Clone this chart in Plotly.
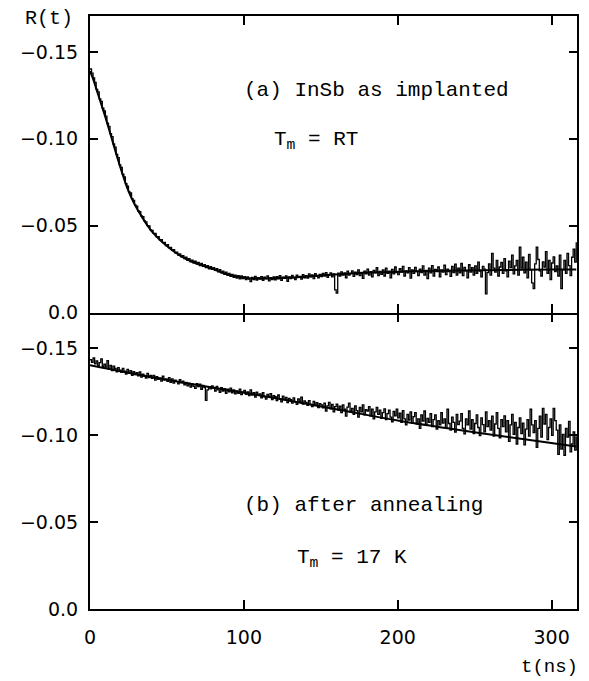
import plotly.graph_objects as go

# ---------------- data ----------------
# channel times (ns), 1 ns channels, 0 ... 316
t_data = list(range(317))

# panel (a): InSb as implanted, R(t) per channel
r_a = [
    -.1402, -.1378, -.1350, -.1325, -.1284, -.1270, -.1230, -.1215, -.1176, -.1160,
    -.1130, -.1090, -.1072, -.1030, -.1012, -.0970, -.0952, -.0910, -.0892, -.0850,
    -.0835, -.0796, -.0780, -.0742, -.0728, -.0695, -.0688, -.0655, -.0646, -.0618,
    -.0612, -.0585, -.0580, -.0556, -.0552, -.0528, -.0522, -.0500, -.0498, -.0476,
    -.0472, -.0455, -.0455, -.0436, -.0437, -.0418, -.0420, -.0402, -.0404, -.0385,
    -.0390, -.0372, -.0375, -.0358, -.0362, -.0344, -.0348, -.0330, -.0338, -.0320,
    -.0328, -.0310, -.0318, -.0300, -.0310, -.0292, -.0302, -.0285, -.0295, -.0278,
    -.0288, -.0270, -.0282, -.0265, -.0276, -.0258, -.0270, -.0252, -.0264, -.0248,
    -.0258, -.0242, -.0252, -.0234, -.0246, -.0228, -.0238, -.0220, -.0232, -.0214,
    -.0225, -.0208, -.0220, -.0203, -.0215, -.0198, -.0212, -.0194, -.0210, -.0195,
    -.0207, -.0190, -.0205, -.0193, -.0178, -.0202, -.0190, -.0208, -.0186, -.0200,
    -.0192, -.0206, -.0185, -.0203, -.0195, -.0210, -.0182, -.0200, -.0190, -.0205,
    -.0188, -.0207, -.0194, -.0212, -.0185, -.0203, -.0196, -.0211, -.0180, -.0205,
    -.0195, -.0214, -.0200, -.0190, -.0215, -.0202, -.0208, -.0192, -.0218, -.0200,
    -.0212, -.0198, -.0222, -.0205, -.0216, -.0195, -.0224, -.0208, -.0200, -.0220,
    -.0206, -.0225, -.0210, -.0230, -.0202, -.0218, -.0228, -.0205, -.0222, -.0130,
    -.0112, -.0226, -.0210, -.0234, -.0216, -.0228, -.0200, -.0238, -.0215, -.0225,
    -.0240, -.0208, -.0232, -.0218, -.0245, -.0212, -.0230, -.0196, -.0238, -.0222,
    -.0250, -.0215, -.0235, -.0205, -.0242, -.0228, -.0258, -.0212, -.0236, -.0220,
    -.0245, -.0210, -.0255, -.0226, -.0238, -.0200, -.0248, -.0222, -.0262, -.0230,
    -.0218, -.0252, -.0232, -.0265, -.0210, -.0240, -.0228, -.0258, -.0198, -.0245,
    -.0225, -.0260, -.0235, -.0212, -.0250, -.0230, -.0268, -.0215, -.0242, -.0195,
    -.0255, -.0228, -.0270, -.0210, -.0248, -.0236, -.0262, -.0205, -.0245, -.0232,
    -.0272, -.0218, -.0250, -.0235, -.0208, -.0265, -.0230, -.0278, -.0215, -.0255,
    -.0228, -.0282, -.0212, -.0260, -.0240, -.0200, -.0275, -.0232, -.0258, -.0215,
    -.0268, -.0225, -.0290, -.0238, -.0205, -.0265, -.0250, -.0107, -.0230, -.0280,
    -.0215, -.0340, -.0255, -.0232, -.0300, -.0210, -.0262, -.0288, -.0225, -.0310,
    -.0240, -.0205, -.0295, -.0258, -.0330, -.0222, -.0268, -.0300, -.0215, -.0376,
    -.0255, -.0318, -.0228, -.0290, -.0200, -.0335, -.0245, -.0170, -.0138, -.0280,
    -.0376, -.0305, -.0240, -.0210, -.0292, -.0262, -.0350, -.0225, -.0300, -.0190,
    -.0285, -.0320, -.0235, -.0268, -.0210, -.0330, -.0138, -.0245, -.0300, -.0225,
    -.0340, -.0270, -.0212, -.0318, -.0365, -.0290, -.0405,
]

# panel (b): after annealing
r_b = [
    -.1435, -.1420, -.1445, -.1412, -.1428, -.1400, -.1418, -.1440, -.1395, -.1410,
    -.1392, -.1430, -.1380, -.1402, -.1372, -.1398, -.1385, -.1365, -.1390, -.1375,
    -.1362, -.1385, -.1370, -.1352, -.1380, -.1358, -.1372, -.1345, -.1366, -.1350,
    -.1360, -.1342, -.1365, -.1335, -.1352, -.1340, -.1330, -.1356, -.1332, -.1345,
    -.1328, -.1345, -.1318, -.1338, -.1322, -.1330, -.1312, -.1340, -.1318, -.1325,
    -.1310, -.1332, -.1305, -.1325, -.1300, -.1318, -.1310, -.1296, -.1320, -.1302,
    -.1312, -.1290, -.1305, -.1285, -.1300, -.1278, -.1296, -.1282, -.1270, -.1298,
    -.1280, -.1295, -.1265, -.1288, -.1275, -.1201, -.1262, -.1280, -.1268, -.1285,
    -.1270, -.1255, -.1282, -.1262, -.1248, -.1275, -.1255, -.1268, -.1242, -.1265,
    -.1250, -.1272, -.1245, -.1262, -.1238, -.1256, -.1242, -.1265, -.1235, -.1250,
    -.1258, -.1236, -.1250, -.1228, -.1262, -.1232, -.1245, -.1220, -.1248, -.1230,
    -.1238, -.1215, -.1245, -.1222, -.1208, -.1235, -.1218, -.1240, -.1205, -.1228,
    -.1222, -.1200, -.1232, -.1210, -.1192, -.1225, -.1205, -.1218, -.1188, -.1212,
    -.1205, -.1185, -.1215, -.1192, -.1178, -.1210, -.1195, -.1220, -.1180, -.1198,
    -.1190, -.1172, -.1200, -.1178, -.1165, -.1195, -.1175, -.1188, -.1160, -.1182,
    -.1175, -.1158, -.1185, -.1140, -.1170, -.1190, -.1152, -.1178, -.1135, -.1165,
    -.1180, -.1145, -.1168, -.1130, -.1175, -.1150, -.1110, -.1162, -.1185, -.1138,
    -.1155, -.1120, -.1170, -.1142, -.1105, -.1160, -.1135, -.1175, -.1118, -.1148,
    -.1140, -.1165, -.1110, -.1150, -.1095, -.1135, -.1160, -.1120, -.1145, -.1098,
    -.1130, -.1152, -.1090, -.1125, -.1145, -.1105, -.1078, -.1138, -.1112, -.1150,
    -.1100, -.1128, -.1075, -.1142, -.1095, -.1060, -.1120, -.1088, -.1135, -.1070,
    -.1108, -.1130, -.1065, -.1095, -.1040, -.1118, -.1082, -.1140, -.1060, -.1098,
    -.1075, -.1125, -.1050, -.1090, -.1118, -.1035, -.1085, -.1060, -.1130, -.1070,
    -.1095, -.1040, -.1150, -.1068, -.1030, -.1105, -.1075, -.1018, -.1120, -.1062,
    -.1082, -.1125, -.1040, -.1008, -.1095, -.1060, -.1140, -.1035, -.1090, -.1010,
    -.1068, -.1118, -.1045, -.0998, -.1100, -.1062, -.1020, -.1135, -.1050, -.1085,
    -.1030, -.1110, -.0995, -.1065, -.1130, -.1040, -.0985, -.1090, -.1050, -.1112,
    -.1020, -.1085, -.0965, -.1060, -.1120, -.1005, -.1075, -.0950, -.1045, -.1100,
    -.1010, -.1070, -.0945, -.1035, -.1090, -.0995, -.1150, -.1060, -.1015, -.1085,
    -.0930, -.1040, -.1110, -.0990, -.1155, -.1065, -.1120, -.0975, -.1045, -.1095,
    -.1000, -.1155, -.1085, -.1030, -.0890, -.1060, -.0920, -.1005, -.0885, -.1040,
    -.0990, -.1080, -.0905, -.0950, -.1020, -.0915, -.0995,
]

# fitted curves
fit_a_t = [0, 2, 4, 6, 8, 10, 12, 15, 18, 21, 24, 28, 32, 36, 40, 45, 50, 55, 60, 65,
           70, 80, 90, 100, 110, 120, 135, 150, 170, 190, 210, 240, 270, 300, 316]
fit_a = [-.1390, -.1345, -.1290, -.1235, -.1180, -.1125, -.1065, -.0975, -.0885, -.0800,
         -.0722, -.0640, -.0575, -.0518, -.0468, -.0422, -.0383, -.0348, -.0320, -.0298,
         -.0280, -.0250, -.0217, -.0200, -.0196, -.0197, -.0203, -.0213, -.0225, -.0232,
         -.0237, -.0242, -.0245, -.0247, -.0248]

fit_b_t = [0, 40, 80, 120, 160, 200, 240, 280, 316]
fit_b = [-.1403, -.1335, -.1275, -.1215, -.1150, -.1085, -.1030, -.0980, -.0935]

y_ticks = [-0.15, -0.10, -0.05, 0.0]
y_ticktext = ["\u22120.15", "\u22120.10", "\u22120.05", "0.0"]
x_ticks = [0, 100, 200, 300]

# ---------------- figure ----------------
fig = go.Figure()
fig.add_trace(go.Scatter(x=t_data, y=r_a, mode="lines", line=dict(color="black", width=1.3, shape="hv"),
                         xaxis="x", yaxis="y", showlegend=False))
fig.add_trace(go.Scatter(x=fit_a_t, y=fit_a, mode="lines", line=dict(color="black", width=2, shape="spline"),
                         xaxis="x", yaxis="y", showlegend=False))
fig.add_trace(go.Scatter(x=t_data, y=r_b, mode="lines", line=dict(color="black", width=1.3, shape="hv"),
                         xaxis="x2", yaxis="y2", showlegend=False))
fig.add_trace(go.Scatter(x=fit_b_t, y=fit_b, mode="lines", line=dict(color="black", width=2, shape="spline"),
                         xaxis="x2", yaxis="y2", showlegend=False))
# empty trace so the top tick axis of the lower panel is drawn
fig.add_trace(go.Scatter(x=[], y=[], xaxis="x3", yaxis="y2", showlegend=False))

tickfont = dict(family="DejaVu Sans", size=19, color="black")
xrange = [0, 316.5]
common_y = dict(range=[0, -0.1707], tickvals=y_ticks, ticktext=y_ticktext, ticks="inside", ticklen=8,
                tickwidth=1.5, tickcolor="black", showline=True, linecolor="black", linewidth=2,
                mirror="ticks", showgrid=False, zeroline=False, tickfont=tickfont, ticklabelstandoff=6)

fig.update_layout(
    width=589, height=681,
    margin=dict(l=90, r=10, t=16, b=72),
    paper_bgcolor="white", plot_bgcolor="white",
    xaxis=dict(anchor="y", range=xrange, tickvals=x_ticks, ticks="inside", ticklen=9, tickwidth=1.5,
               tickcolor="black", showline=True, linecolor="black", linewidth=2, mirror="ticks",
               showgrid=False, zeroline=False, showticklabels=False),
    yaxis=dict(domain=[0.5, 1.0], anchor="x", **common_y),
    xaxis2=dict(anchor="y2", range=xrange, tickvals=x_ticks, ticks="inside", ticklen=9, tickwidth=1.5,
                tickcolor="black", showline=True, linecolor="black", linewidth=2, mirror=False,
                showgrid=False, zeroline=False, showticklabels=True, tickfont=tickfont,
                ticklabelstandoff=10),
    xaxis3=dict(anchor="y2", overlaying="x2", side="top", range=xrange, tickvals=x_ticks,
                ticks="inside", ticklen=9, tickwidth=1.5, tickcolor="black", showline=False,
                showgrid=False, zeroline=False, showticklabels=False),
    yaxis2=dict(domain=[0.0, 0.5], anchor="x2", **common_y),
)

def pxx(px):
    return (px - 90) / 489.0
def pxy(py):
    return (609 - py) / 593.0

annots = [
    dict(text="(a) InSb as implanted", x=pxx(243), y=pxy(90), xanchor="left", yanchor="middle", size=21),
    dict(text="T<sub>m</sub> = RT", x=pxx(273), y=pxy(140), xanchor="left", yanchor="middle", size=21),
    dict(text="(b) after annealing", x=pxx(243), y=pxy(505), xanchor="left", yanchor="middle", size=21),
    dict(text="T<sub>m</sub> = 17 K", x=pxx(296), y=pxy(558), xanchor="left", yanchor="middle", size=21),
    dict(text="R(t)", x=pxx(49), y=pxy(18), xanchor="center", yanchor="middle", size=20),
    dict(text="t(ns)", x=pxx(551), y=pxy(667), xanchor="center", yanchor="middle", size=19),
]
for a in annots:
    sz = a.pop("size")
    fig.add_annotation(xref="paper", yref="paper", showarrow=False,
                       font=dict(family="Liberation Mono", size=sz, color="black"), **a)

fig.write_html("out.html")
